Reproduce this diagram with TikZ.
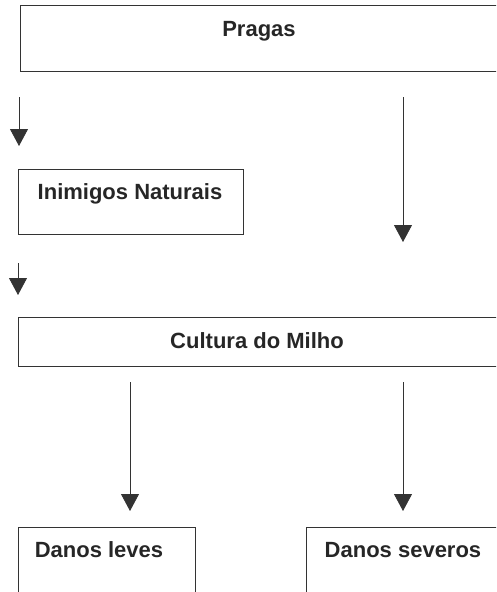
\documentclass[tikz,border=0pt]{standalone}
\usepackage{fontspec}
\setmainfont{Liberation Sans}
\usetikzlibrary{arrows.meta}
\begin{document}
\begin{tikzpicture}[x=1pt,y=-1pt,
  box/.style={draw=black!80, line width=0.8pt, inner sep=0pt, anchor=north west},
  lbl/.style={font=\bfseries\fontsize{22}{26}\selectfont, text=black!85, inner sep=0pt, anchor=base},
  arr/.style={draw=black!80, line width=0.8pt, -{Triangle[width=18pt,length=17pt]}}]
\useasboundingbox (0,0) rectangle (496,592);
\clip (0,0) rectangle (496,592);
% boxes
\node[box, minimum width=490pt, minimum height=66pt] (pragas) at (20,5) {};
\node[box, minimum width=225pt, minimum height=65pt] (inimigos) at (18,169) {};
\node[box, minimum width=492pt, minimum height=49pt] (cultura) at (18,317) {};
\node[box, minimum width=177pt, minimum height=80pt] (leves) at (18,527) {};
\node[box, minimum width=200pt, minimum height=80pt] (severos) at (306,527) {};
% labels
\node[lbl] (tpragas) at (259,36) {Pragas};
\node[lbl] (tinimigos) at (130,199) {Inimigos Naturais};
\node[lbl] (tcultura) at (257,348) {Cultura do Milho};
\node[lbl] (tleves) at (99,557) {Danos leves};
\node[lbl] (tseveros) at (403,557) {Danos severos};
% arrow end points
\coordinate (a1s) at (19,97);  \coordinate (a1e) at (19,146);
\coordinate (a2s) at (403,97); \coordinate (a2e) at (403,242);
\coordinate (a3s) at (18,263); \coordinate (a3e) at (18,295);
\coordinate (a4s) at (130,382); \coordinate (a4e) at (130,511);
\coordinate (a5s) at (403,382); \coordinate (a5e) at (403,511);
\draw[arr] (a1s) -- (a1e);
\draw[arr] (a2s) -- (a2e);
\draw[arr] (a3s) -- (a3e);
\draw[arr] (a4s) -- (a4e);
\draw[arr] (a5s) -- (a5e);
\end{tikzpicture}
\end{document}
